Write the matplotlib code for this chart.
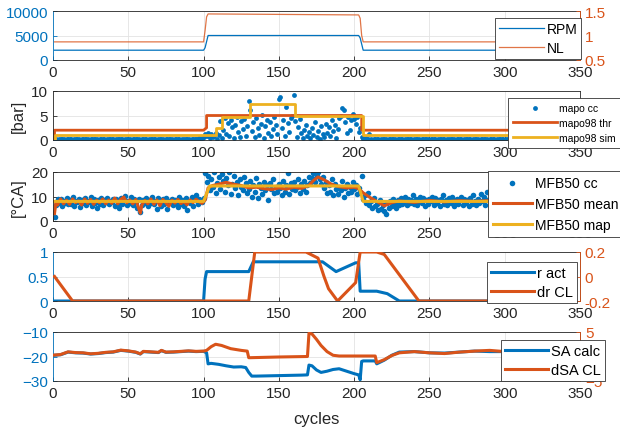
import numpy as np
import matplotlib
matplotlib.use("Agg")
import matplotlib.pyplot as plt

plt.rcParams["font.family"] = ["Liberation Sans", "DejaVu Sans"]

BLUE = "#0072BD"
ORANGE = "#D95319"
YELLOW = "#EDB120"
DARK = "#262626"

# ---- panel 1: engine speed / load
rpm_x = [1, 100, 101, 103, 203, 204, 206, 300]
rpm_y = [2000, 2000, 2500, 5000, 5000, 4500, 2000, 2000]
nl_x = [1, 100, 101, 102, 103, 203, 204, 205, 206, 305]
nl_y = [0.87, 0.87, 1.1, 1.38, 1.44, 1.42, 1.35, 1.0, 0.87, 0.87]

# ---- panel 2: mapo
mapo_cc = [
    0.3, 0.2, 0.1, 0.2, 0.3, 0.2, 0.2, 0.1, 0.2, 0.3,
    0.2, 0.2, 0.1, 0.2, 0.2, 0.3, 0.2, 0.1, 0.2, 0.2,
    0.3, 0.2, 0.2, 0.1, 0.2, 0.2, 0.3, 0.2, 0.2, 0.1,
    0.2, 0.3, 0.2, 0.2, 0.1, 0.2, 0.2, 0.3, 0.2, 0.2,
    0.1, 0.2, 0.3, 0.2, 0.2, 0.2, 0.1, 0.2, 0.3, 0.2,
    0.2, 0.1, 0.2, 0.2, 0.3, 0.2, 0.2, 0.1, 0.2, 0.3,
    0.2, 0.2, 0.1, 0.2, 0.2, 0.3, 0.2, 0.2, 0.1, 0.2,
    0.3, 0.2, 0.2, 0.1, 0.2, 0.2, 0.3, 0.2, 0.2, 0.1,
    0.2, 0.3, 0.2, 0.2, 0.1, 0.2, 0.2, 0.3, 0.2, 0.2,
    0.1, 0.2, 0.3, 0.2, 0.2, 0.2, 0.4, 0.3, 0.5, 0.6,
    1.3, 0.8, 1.5, 0.4, 1.2, 0.6, 0.9, 1.4, 0.3, 1.0,
    3.8, 0.5, 2.1, 4.5, 1.2, 3.4, 0.8, 4.1, 2.6, 0.4,
    3.1, 4.6, 1.6, 0.7, 3.9, 2.2, 4.3, 0.9, 2.9, 7.9,
    6.1, 1.8, 3.6, 0.6, 4.4, 2.4, 1.1, 3.3, 5.2, 0.5,
    2.8, 4.1, 1.5, 3.7, 0.8, 2.3, 4.6, 3.0, 1.3, 8.4,
    8.7, 2.5, 4.0, 0.9, 6.8, 3.4, 1.7, 4.4, 5.0, 9.2,
    3.8, 0.7, 2.6, 4.2, 1.4, 0.5, 2.0, 3.1, 0.8, 1.6,
    0.4, 2.4, 1.0, 3.6, 0.6, 1.9, 0.3, 2.8, 1.2, 0.7,
    3.3, 1.5, 2.6, 0.9, 4.1, 1.8, 3.0, 0.5, 2.2, 4.5,
    4.8, 6.5, 6.2, 3.6, 1.4, 4.6, 2.1, 4.0, 5.3, 4.3,
    3.2, 4.6, 1.7, 2.5, 0.6, 0.3, 0.2, 0.5, 0.3, 1.3,
    0.2, 0.1, 0.2, 0.3, 0.2, 0.2, 0.1, 0.2, 0.3, 0.2,
    0.2, 0.1, 0.2, 0.2, 0.3, 0.2, 0.2, 0.1, 0.2, 0.3,
    0.2, 0.2, 0.1, 0.2, 0.2, 0.3, 0.2, 0.2, 0.1, 0.2,
    0.3, 0.2, 0.2, 0.1, 0.2, 0.2, 0.3, 0.2, 0.2, 0.1,
    0.2, 0.3, 0.2, 0.2, 0.1, 0.2, 0.2, 0.3, 0.2, 0.2,
    0.1, 0.2, 0.3, 0.2, 0.2, 0.2, 0.1, 0.2, 0.3, 0.2,
    0.2, 0.1, 0.2, 0.2, 0.3, 0.2, 0.2, 0.1, 0.2, 0.3,
    0.2, 0.2, 0.1, 0.2, 0.2, 0.3, 0.2, 0.2, 0.1, 0.2,
    0.3, 0.2, 0.2, 0.1, 0.2, 0.2, 0.3, 0.2, 0.2, 0.1,
    0.2, 0.3, 0.2, 0.2, 0.1,
]
thr_x = [1, 1, 100, 102, 102, 205, 205, 305]
thr_y = [0.3, 2.0, 2.0, 2.5, 5.0, 5.0, 2.0, 2.0]
sim_x = [1, 1, 108, 108, 112, 112, 131, 131, 161, 161, 206, 206, 305]
sim_y = [0.3, 1.0, 1.0, 2.5, 2.5, 4.6, 4.6, 7.3, 7.3, 4.8, 4.8, 1.0, 1.0]

# ---- panel 3: MFB50
mfb_cc = [
    1.5, 6.5, 8.8, 7.2, 9.0, 6.0, 8.1, 7.4, 9.3, 6.8,
    8.5, 7.0, 9.6, 6.2, 8.0, 7.7, 9.1, 5.8, 8.6, 7.3,
    9.4, 6.6, 8.2, 7.8, 9.8, 6.1, 8.9, 7.5, 5.5, 8.4,
    7.1, 9.2, 6.4, 8.7, 7.9, 9.5, 6.9, 8.3, 7.6, 9.0,
    6.3, 8.8, 7.4, 5.2, 9.3, 7.0, 8.5, 10.2, 6.7, 8.1,
    7.3, 9.7, 6.5, 8.9, 7.8, 5.4, 9.1, 3.5, 6.6, 8.4,
    7.2, 9.4, 6.0, 8.6, 7.5, 10.0, 6.8, 8.2, 5.0, 9.2,
    7.7, 6.2, 8.9, 7.1, 9.5, 4.8, 8.3, 7.6, 9.0, 6.4,
    8.7, 7.3, 5.6, 9.6, 7.0, 8.4, 6.1, 9.2, 4.6, 8.0,
    7.4, 9.8, 6.3, 8.6, 10.5, 7.1, 9.0, 8.2, 7.7, 9.4,
    19.5, 16.0, 18.5, 12.5, 17.0, 14.0, 20.0, 11.5, 15.5, 18.0,
    13.0, 19.0, 16.5, 12.0, 17.5, 14.5, 20.0, 11.0, 15.0, 18.5,
    13.5, 16.0, 10.5, 17.0, 14.0, 12.5, 18.0, 15.5, 11.5, 13.0,
    16.5, 10.0, 14.5, 12.0, 17.5, 9.5, 15.0, 13.5, 11.0, 16.0,
    12.5, 14.5, 8.5, 15.5, 13.0, 17.0, 11.5, 14.0, 12.0, 15.0,
    13.5, 10.5, 16.5, 12.0, 14.5, 19.5, 11.0, 15.5, 13.0, 16.0,
    12.5, 14.0, 17.0, 11.5, 15.0, 13.0, 16.5, 12.0, 14.5, 18.0,
    15.5, 17.5, 19.5, 16.0, 18.5, 20.0, 17.0, 15.0, 18.0, 13.5,
    16.0, 11.5, 14.5, 12.0, 17.0, 10.5, 15.0, 13.0, 11.0, 14.0,
    12.5, 16.5, 10.0, 13.5, 15.0, 11.5, 14.0, 12.0, 16.0, 13.0,
    14.5, 11.0, 13.5, 12.0, 18.5, 9.0, 10.5, 7.5, 11.5, 6.5,
    8.0, 5.5, 9.5, 6.0, 7.0, 4.5, 8.5, 5.0, 6.5, 4.0,
    3.0, 7.5, 5.5, 8.0, 6.0, 9.0, 7.0, 5.5, 8.5, 6.5,
    9.5, 7.0, 8.0, 10.0, 6.5, 9.0, 7.5, 8.5, 10.5, 7.0,
    9.0, 6.5, 8.0, 10.0, 7.5, 9.5, 6.0, 8.5, 7.0, 9.0,
    8.0, 10.0, 6.5, 9.5, 7.5, 8.5, 6.0, 9.0, 10.5, 7.0,
    8.5, 6.5, 9.5, 7.5, 10.0, 6.0, 8.0, 9.0, 7.0, 8.5,
    10.0, 6.5, 9.0, 7.5, 8.5, 6.0, 9.5, 7.0, 10.5, 8.0,
    6.5, 9.0, 7.5, 11.0, 8.0, 10.0, 6.5, 12.0, 8.5, 11.5,
    7.0, 9.5, 6.0, 8.5, 10.0, 7.5, 9.0, 6.5, 8.0, 9.5,
]
mean_x = [1, 2, 3, 5, 7, 9, 11, 13, 15, 17, 19, 21, 23, 25, 27, 29, 31, 33,
          35, 37, 39, 41, 43, 45, 47, 49, 51, 53, 55, 57, 58, 59, 61, 63, 65,
          67, 69, 71, 73, 75, 77, 79, 81, 83, 85, 87, 89, 91, 93, 95, 97, 99,
          101, 103, 106, 110, 115, 120, 125, 130, 135, 140, 145, 150, 155,
          160, 165, 170, 173, 176, 180, 185, 190, 195, 200, 203, 206, 210,
          215, 220, 225, 230, 240, 250, 260, 270, 280, 290, 300]
mean_y = [3.0, 8.0, 6.5, 9.0, 7.0, 8.5, 6.8, 9.0, 7.5, 8.2, 6.5, 9.0, 7.2,
          8.8, 6.8, 8.5, 7.4, 9.0, 7.0, 8.6, 7.2, 9.4, 7.0, 8.8, 9.8, 7.4,
          8.6, 7.0, 8.8, 5.0, 3.2, 6.5, 8.4, 7.0, 9.0, 6.8, 8.6, 6.2, 8.8,
          7.4, 6.0, 8.5, 7.3, 8.8, 7.1, 8.0, 6.6, 8.6, 7.5, 8.9, 7.9, 7.2,
          8.5, 13.5, 14.5, 15.0, 15.8, 15.0, 14.5, 13.5, 13.8, 13.2, 12.8,
          13.5, 13.0, 13.8, 13.3, 14.5, 16.5, 18.0, 16.8, 15.0, 14.0, 13.5,
          13.8, 13.2, 11.5, 9.8, 8.0, 6.2, 7.5, 8.2, 7.6, 8.4, 7.8, 8.3,
          8.0, 8.3, 8.0]
map_x = [1, 100, 104, 203, 206, 300]
map_y = [8.0, 8.0, 14.3, 14.3, 8.0, 8.0]

# ---- panel 4: r act / dr CL
ract_x = [1, 100, 101, 102, 130, 133, 179, 188, 201, 203, 204, 215, 222, 230, 300]
ract_y = [0, 0, 0.45, 0.6, 0.6, 0.8, 0.8, 0.6, 0.78, 0.78, 0.2, 0.2, 0.15, 0, 0]
drcl_x = [1, 13, 130, 134, 168, 176, 180, 183, 189, 201, 204, 215, 220, 243, 305]
drcl_y = [0, -0.2, -0.2, 0.2, 0.2, 0.15, 0.0, -0.1, -0.2, -0.05, 0.2, 0.2,
          0.18, -0.2, -0.2]

# ---- panel 5: spark advance
sa_x = [1, 5, 10, 15, 20, 25, 30, 35, 40, 45, 50, 55, 58, 60, 65, 70, 72, 75,
        80, 85, 90, 95, 100, 102, 103, 105, 110, 115, 120, 125, 128, 130, 132,
        135, 150, 165, 169, 170, 172, 175, 178, 182, 186, 190, 195, 200, 203,
        204, 205, 206, 210, 214, 215, 220, 225, 230, 240, 250, 260, 270, 280,
        290, 300]
sa_y = [-19.5, -19.3, -18.2, -18.5, -18.6, -19.0, -18.8, -18.4, -18.2, -17.5,
        -17.8, -18.3, -19.0, -18.0, -18.2, -18.4, -17.6, -18.3, -18.2, -18.0,
        -17.8, -18.0, -17.9, -18.5, -23.0, -22.8, -23.2, -23.8, -24.3, -24.2,
        -24.5, -26.5, -28.0, -28.0, -27.8, -27.6, -27.5, -23.5, -23.8, -25.5,
        -26.5, -26.0, -25.3, -25.0, -26.0, -27.0, -27.5, -29.5, -22.0, -21.8,
        -21.8, -21.8, -23.0, -21.5, -19.5, -18.2, -18.0, -18.5, -18.6, -18.2,
        -17.8, -18.0, -18.0]
dsa_x = [1, 5, 10, 15, 20, 25, 30, 35, 40, 45, 50, 55, 58, 60, 65, 70, 72, 75,
         80, 85, 90, 95, 100, 102, 105, 108, 112, 118, 125, 129, 130, 150, 169,
         170, 172, 175, 178, 182, 186, 190, 200, 214, 215, 220, 225, 230, 240,
         250, 260, 270, 280, 290, 300, 305]
dsa_y = [0.3, 0.4, 0.95, 0.8, 0.75, 0.55, 0.65, 0.85, 0.95, 1.3, 1.15, 0.9,
         0.55, 1.05, 0.95, 0.85, 1.25, 0.9, 0.95, 1.05, 1.15, 1.05, 1.1, 1.25,
         2.0, 2.5, 2.25, 1.6, 1.25, 1.1, -0.25, -0.1, 0.0, 4.75, 4.6, 3.5,
         2.25, 1.0, 0.25, 0.1, 0.1, 0.1, -1.25, -0.65, 0.2, 0.75, 1.0, 0.75,
         0.6, 0.9, 1.1, 1.25, 1.0, 1.0]

cycles_mapo = np.arange(1, len(mapo_cc) + 1)
cycles_mfb = np.arange(1, len(mfb_cc) + 1)

W, H = 620, 435
fig = plt.figure(figsize=(W / 100, H / 100), dpi=100)


def make_axes(top):
    left, right, height = 53, 580, 49
    return fig.add_axes([left / W, 1 - (top + height) / H, (right - left) / W, height / H])


def style(ax, left_color=DARK):
    ax.set_xlim(0, 350)
    ax.set_xticks(range(0, 351, 50))
    ax.grid(True, color="#e3e3e3", linewidth=0.6)
    ax.set_axisbelow(True)
    ax.tick_params(direction="in", length=3, labelsize=11, colors=DARK, width=0.6)
    ax.tick_params(axis="y", colors=left_color)
    for s in ax.spines.values():
        s.set_color(DARK)
        s.set_linewidth(0.6)
    ax.spines["left"].set_color(left_color)


def right_style(ax2):
    ax2.tick_params(direction="in", length=3, labelsize=11, colors=ORANGE, width=0.6)
    for s in ax2.spines.values():
        s.set_visible(False)
    ax2.spines["right"].set_visible(True)
    ax2.spines["right"].set_color(ORANGE)
    ax2.spines["right"].set_linewidth(0.6)


def legend(ax, handles, x0, y0, size, **kw):
    opts = dict(loc="upper left", bbox_to_anchor=(x0 / W, 1 - y0 / H),
                bbox_transform=fig.transFigure, borderaxespad=0, fancybox=False,
                framealpha=1, edgecolor="#333333", prop={"size": size},
                handlelength=3.0, handletextpad=0.2, borderpad=0.3, labelspacing=0.3)
    opts.update(kw)
    leg = ax.legend(handles=handles, **opts)
    leg.get_frame().set_linewidth(0.6)
    return leg


# panel 1
ax1 = make_axes(12)
style(ax1, BLUE)
l_rpm, = ax1.plot(rpm_x, rpm_y, color=BLUE, lw=0.9, label="RPM")
ax1.set_ylim(0, 10000)
ax1.set_yticks([0, 5000, 10000])
ax1r = ax1.twinx()
right_style(ax1r)
l_nl, = ax1r.plot(nl_x, nl_y, color=ORANGE, lw=0.9, alpha=0.8, label="NL")
ax1r.set_ylim(0.5, 1.5)
ax1r.set_yticks([0.5, 1, 1.5])
ax1r.set_yticklabels(["0.5", "1", "1.5"])
legend(ax1r, [l_rpm, l_nl], 495, 19, 10, handlelength=3.2, labelspacing=0.35)

# panel 2
ax2 = make_axes(92)
style(ax2)
s_mapo = ax2.scatter(cycles_mapo, mapo_cc, s=12, color=BLUE, linewidths=0, label="mapo cc")
l_thr, = ax2.plot(thr_x, thr_y, color=ORANGE, lw=2, label="mapo98 thr")
l_sim, = ax2.plot(sim_x, sim_y, color=YELLOW, lw=2, label="mapo98 sim")
ax2.set_ylim(0, 10)
ax2.set_yticks([0, 5, 10])
ax2.set_ylabel("[bar]", fontsize=12, color=DARK, labelpad=4)
legend(ax2, [s_mapo, l_thr, l_sim], 508, 99, 7.5, scatterpoints=1,
       handlelength=4.2, labelspacing=0.45, borderpad=0.5)

# panel 3
ax3 = make_axes(173)
style(ax3)
s_mfb = ax3.scatter(cycles_mfb, mfb_cc, s=16, color=BLUE, linewidths=0, label="MFB50 cc")
l_mean, = ax3.plot(mean_x, mean_y, color=ORANGE, lw=2.2, label="MFB50 mean")
l_map, = ax3.plot(map_x, map_y, color=YELLOW, lw=2.2, label="MFB50 map")
ax3.set_ylim(0, 20)
ax3.set_yticks([0, 10, 20])
ax3.set_ylabel("[°CA]", fontsize=12, color=DARK, labelpad=4)
legend(ax3, [s_mfb, l_mean, l_map], 488, 172, 10, scatterpoints=1,
       handlelength=2.8, labelspacing=0.5, borderpad=0.35)

# panel 4
ax4 = make_axes(253)
style(ax4, BLUE)
l_ract, = ax4.plot(ract_x, ract_y, color=BLUE, lw=2.2, label="r act")
ax4.set_ylim(0, 1)
ax4.set_yticks([0, 0.5, 1])
ax4.set_yticklabels(["0", "0.5", "1"])
ax4r = ax4.twinx()
right_style(ax4r)
l_drcl, = ax4r.plot(drcl_x, drcl_y, color=ORANGE, lw=2.2, label="dr CL")
ax4r.set_ylim(-0.2, 0.2)
ax4r.set_yticks([-0.2, 0, 0.2])
ax4r.set_yticklabels(["-0.2", "0", "0.2"])
legend(ax4r, [l_ract, l_drcl], 487, 263, 10.5, handlelength=2.9)

# panel 5
ax5 = make_axes(333)
style(ax5, BLUE)
l_sa, = ax5.plot(sa_x, sa_y, color=BLUE, lw=2.2, label="SA calc")
ax5.set_ylim(-30, -10)
ax5.set_yticks([-30, -20, -10])
ax5r = ax5.twinx()
right_style(ax5r)
l_dsa, = ax5r.plot(dsa_x, dsa_y, color=ORANGE, lw=2.2, label="dSA CL")
ax5r.set_ylim(-5, 5)
ax5r.set_yticks([-5, 0, 5])
legend(ax5r, [l_sa, l_dsa], 501, 341, 10.5, handlelength=2.9)
ax5.set_xlabel("cycles", fontsize=12, color=DARK, labelpad=8)

fig.savefig("out.png", dpi=100)
